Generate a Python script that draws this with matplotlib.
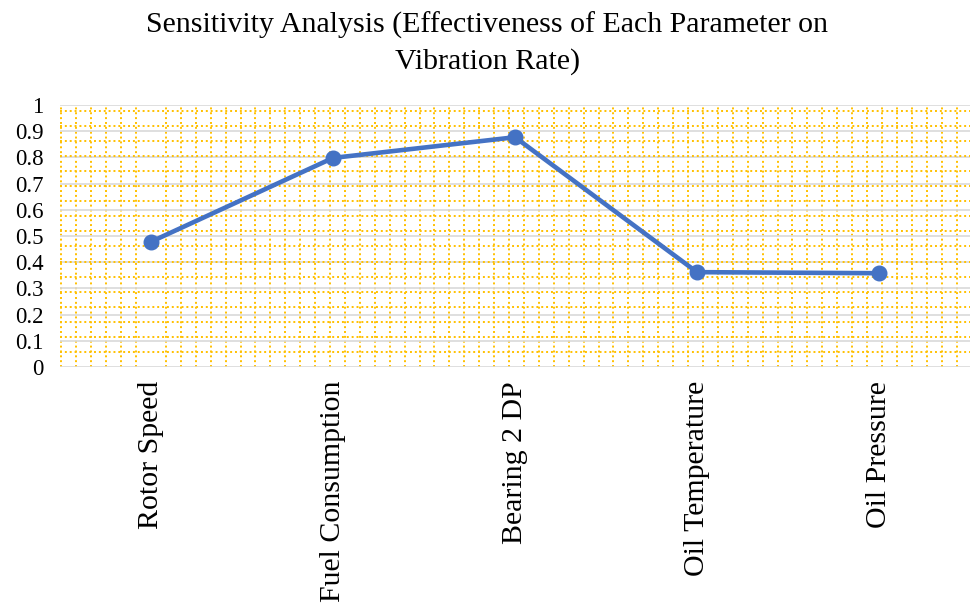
import numpy as np
import matplotlib.pyplot as plt
from matplotlib.ticker import MultipleLocator

# sensitivity values
params = ["Rotor Speed", "Fuel Consumption", "Bearing 2 DP", "Oil Temperature", "Oil Pressure"]
effect = [0.478, 0.798, 0.877, 0.362, 0.358]
yticks = [0, 0.1, 0.2, 0.3, 0.4, 0.5, 0.6, 0.7, 0.8, 0.9, 1]
ylabels = ["0", "0.1", "0.2", "0.3", "0.4", "0.5", "0.6", "0.7", "0.8", "0.9", "1"]

plt.rcParams['font.family'] = ['Liberation Serif', 'DejaVu Serif']

fig = plt.figure(figsize=(9.75, 6.05), dpi=100)
ax = fig.add_axes([60 / 975, 1 - 367 / 605, 910 / 975, 262 / 605])

x = np.arange(len(params))
ax.plot(x, effect, color='#4472C4', linewidth=3.3, marker='o', markersize=10.5,
        solid_capstyle='round', zorder=5)

ax.set_xlim(-0.5, len(params) - 0.5)
ax.set_ylim(0, 1)
ax.set_yticks(yticks)
ax.set_yticklabels(ylabels, fontsize=16.5)
ax.set_xticks(x)
ax.set_xticklabels(params, rotation=90, fontsize=21.5)

# patterned background (yellow dotted squares)
ax.xaxis.set_minor_locator(MultipleLocator(5 / 61))
ax.yaxis.set_minor_locator(MultipleLocator(0.0575))
ax.grid(which='minor', color='#FFC000', linestyle=(0, (1, 1.5)), linewidth=1.4)
ax.grid(which='major', axis='y', color='#D9D9D9', linewidth=1.2)
ax.grid(which='major', axis='x', visible=False)
ax.set_axisbelow(True)

ax.tick_params(which='both', length=0)
ax.tick_params(axis='y', pad=12)
ax.tick_params(axis='x', pad=10)
for s in ax.spines.values():
    s.set_visible(False)

fig.suptitle("Sensitivity Analysis (Effectiveness of Each Parameter on\nVibration Rate)",
             fontsize=21.5, y=0.98, linespacing=1.4)

fig.savefig("out.png", dpi=100)
